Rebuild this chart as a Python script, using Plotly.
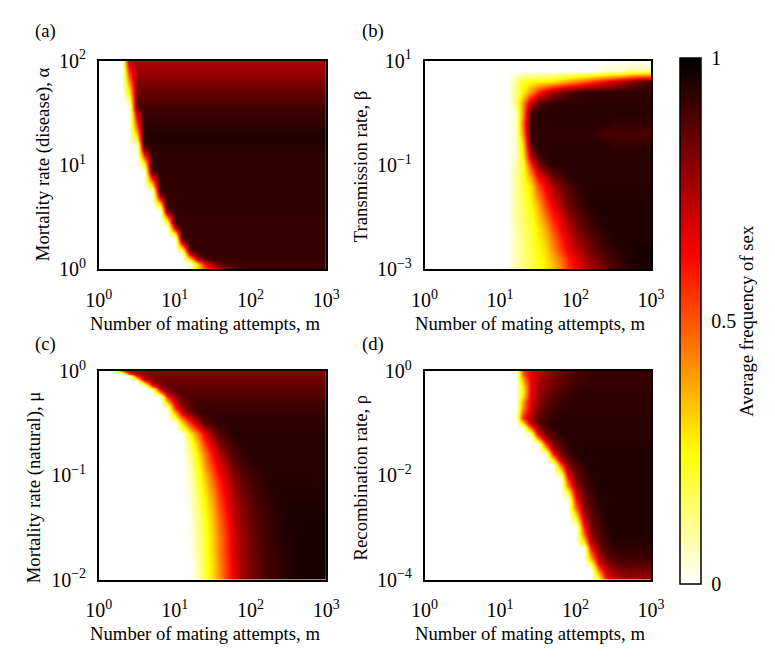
import numpy as np
import plotly.graph_objects as go
from plotly.subplots import make_subplots

SERIF = "Liberation Serif"
W, H = 775, 657

# Sampling grid of the simulations: log10 of the number of mating attempts m
M_EXP = np.linspace(0.0, 3.0, 31)
# Parameter grids (log10), listed from the top row to the bottom row
ALPHA_EXP = np.linspace(2.0, 0.0, 41)    # mortality rate (disease)
BETA_EXP = np.linspace(1.0, -3.0, 21)    # transmission rate
MU_EXP = [0.0, -0.025, -0.05, -0.075, -0.1, -0.125, -0.15, -0.175, -0.2,
          -0.25, -0.3, -0.35, -0.4, -0.5, -0.6, -0.7, -0.8, -0.9, -1.0,
          -1.1, -1.2, -1.3, -1.4, -1.5, -1.6, -1.7, -1.8, -1.9, -2.0]  # mortality rate (natural)
RHO_EXP = np.linspace(0.0, -4.0, 41)     # recombination rate

# Average frequency of sex (percent), one row per parameter value, top to bottom
FREQ_ALPHA = [
    [0] * 4 + [73] + [75] * 26,
    [0] * 4 + [65] + [76] * 26,
    [0] * 4 + [56] + [77] * 26,
    [0] * 4 + [49] + [79] * 26,
    [0] * 4 + [41] + [81] * 26,
    [0] * 4 + [33] + [83] * 26,
    [0] * 4 + [25] + [85] * 26,
    [0] * 4 + [16] + [87] * 26,
    [0] * 4 + [6] + [88] * 26,
    [0] * 5 + [86] + [90] * 25,
    [0] * 5 + [73] + [91] * 25,
    [0] * 5 + [64] + [92] * 25,
    [0] * 5 + [55] + [93] * 25,
    [0] * 5 + [45] + [94] * 25,
    [0] * 5 + [35] + [95] * 25,
    [0] * 5 + [24] + [95] * 25,
    [0] * 5 + [5] + [94] * 25,
    [0] * 6 + [78] + [94] * 24,
    [0] * 6 + [57] + [93] * 24,
    [0] * 6 + [37] + [93] * 24,
    [0] * 6 + [19] + [93] * 24,
    [0] * 7 + [92] + [93] * 23,
    [0] * 7 + [70] + [93] * 23,
    [0] * 7 + [48] + [93] * 23,
    [0] * 7 + [27] + [93] * 23,
    [0] * 7 + [2] + [93] * 23,
    [0] * 8 + [70] + [93] * 22,
    [0] * 8 + [42] + [93] * 22,
    [0] * 8 + [14] + [93] * 22,
    [0] * 9 + [79] + [93] * 21,
    [0] * 9 + [47] + [92] * 21,
    [0] * 9 + [14] + [92] * 21,
    [0] * 10 + [69] + [92] * 20,
    [0] * 10 + [34] + [92] * 20,
    [0] * 10 + [2] + [92] * 20,
    [0] * 11 + [62] + [92] * 19,
    [0] * 11 + [25] + [92] * 19,
    [0] * 12 + [70, 88] + [92] * 17,
    [0] * 12 + [32, 75, 88] + [92] * 16,
    [0] * 13 + [35, 62, 78, 86, 90] + [91] * 13,
    [0] * 12 + [12, 28, 48, 62, 72, 80, 86, 89] + [91] * 11,
]

FREQ_BETA = [
    [0] * 31,
    [0] * 23 + [2, 5, 5, 5, 10, 10, 10, 10],
    [0] * 12 + [12, 22, 25, 27, 28, 30, 35, 40, 45, 50, 55, 60, 65, 70, 75, 80, 85, 88, 90],
    [0] * 12 + [12, 25, 40, 55, 68, 76, 82, 87, 90] + [93] * 10,
    [0] * 12 + [12, 40, 70, 85, 90] + [93] * 14,
    [0] * 12 + [5, 40, 90] + [94] * 16,
    [0] * 12 + [5, 45, 92] + [94] * 10 + [92] * 6,
    [0] * 12 + [5, 40, 92] + [93] * 8 + [91] + [89] * 7,
    [0] * 12 + [5, 30, 88] + [94] * 10 + [92] * 6,
    [0] * 12 + [5, 25, 75, 90] + [94] * 15,
    [0] * 12 + [8, 20, 55, 80, 90] + [94] * 14,
    [0] * 12 + [10, 20, 40, 62, 75, 85, 90] + [94] * 12,
    [0] * 12 + [10, 18, 30, 50, 65, 75, 83, 88, 92] + [94] * 10,
    [0] * 12 + [10, 18, 27, 42, 58, 70, 78, 85, 90, 93] + [95] * 9,
    [0] * 12 + [10, 16, 24, 36, 52, 64, 74, 82, 88, 92] + [95] * 9,
    [0] * 12 + [10, 15, 22, 32, 45, 58, 68, 77, 84, 89, 92] + [95] * 8,
    [0] * 12 + [8, 14, 20, 28, 38, 52, 62, 72, 80, 86, 90, 93] + [95] * 7,
    [0] * 12 + [8, 13, 19, 26, 34, 46, 58, 68, 76, 82, 87, 90, 93] + [95] * 6,
    [0] * 12 + [8, 12, 18, 24, 31, 42, 54, 64, 72, 78, 84, 88, 91, 93, 95, 95, 96, 97, 97],
    [0] * 12 + [8, 12, 17, 22, 29, 36, 46, 57, 66, 73, 79, 84, 88, 91, 93, 95, 96, 96, 97],
    [0] * 12 + [8, 12, 16, 21, 27, 32, 42, 55, 63, 70, 76, 81, 85, 88, 91, 93, 95, 96, 97],
]

FREQ_MU = [
    [0] * 3 + [48, 73, 78] + [80] * 25,
    [0] * 4 + [49, 74, 79] + [81] * 24,
    [0] * 5 + [57, 76, 81] + [82] * 23,
    [0] * 5 + [28, 70, 80] + [83] * 23,
    [0] * 6 + [53, 77, 82] + [84] * 22,
    [0] * 6 + [17, 68, 81] + [85] * 22,
    [0] * 7 + [41, 76, 83] + [86] * 21,
    [0] * 7 + [9, 65, 81] + [86] * 21,
    [0] * 8 + [45, 78, 85] + [87] * 20,
    [0] * 9 + [55, 78, 85] + [88] * 19,
    [0] * 9 + [33, 68, 83, 88] + [90] * 18,
    [0] * 9 + [3, 55, 78, 87, 90] + [91] * 17,
    [0] * 10 + [35, 65, 82, 90] + [92] * 17,
    [0] * 11 + [30, 55, 75, 87, 91] + [93] * 15,
    [0] * 12 + [25, 45, 65, 80, 88, 92] + [94] * 13,
    [0] * 12 + [15, 35, 55, 70, 82, 88, 92] + [94] * 12,
    [0] * 12 + [10, 28, 45, 62, 74, 83, 89, 92] + [94] * 11,
    [0] * 12 + [8, 24, 40, 56, 68, 78, 85, 90, 92] + [94] * 10,
    [0] * 12 + [6, 20, 34, 50, 63, 74, 82, 87, 90, 92] + [94] * 9,
    [0] * 12 + [5, 18, 30, 45, 58, 70, 79, 85, 89, 91, 93] + [95] * 8,
    [0] * 12 + [4, 16, 27, 40, 55, 67, 76, 83, 87, 90, 92, 94] + [95] * 7,
    [0] * 12 + [3, 14, 25, 37, 52, 64, 74, 81, 86, 89, 91, 93] + [95] * 7,
    [0] * 12 + [2, 12, 23, 35, 49, 62, 72, 80, 85, 88, 91, 93, 94] + [96] * 6,
    [0] * 12 + [2, 11, 22, 33, 47, 60, 71, 79, 84, 88, 90, 92, 94] + [96] * 6,
    [0] * 12 + [1, 10, 21, 32, 45, 58, 70, 78, 83, 87, 90, 92, 94, 95] + [96] * 5,
    [0] * 12 + [1, 10, 21, 32, 45, 58, 70, 78, 83, 87, 90, 92, 94, 95] + [96] * 5,
    [0] * 13 + [9, 20, 31, 44, 57, 69, 77, 82, 86, 89, 91, 93, 95] + [96] * 5,
    [0] * 13 + [8, 20, 30, 43, 56, 68, 77, 82, 86, 89, 91, 93, 95] + [96] * 4 + [97],
    [0] * 13 + [8, 20, 30, 42, 56, 68, 77, 82, 86, 89, 91, 93, 95, 96, 96, 96, 97, 97],
]

FREQ_RHO = [
    [0] * 13 + [50, 66, 72, 77, 81, 84, 87, 89, 90, 91] + [92] * 8,
    [0] * 13 + [45, 66, 73, 78, 82, 85, 88, 90, 91] + [92] * 9,
    [0] * 13 + [35, 65, 74, 79, 83, 86, 88, 90, 91] + [92] * 9,
    [0] * 13 + [28, 64, 75, 80, 84, 87, 89, 91] + [92] * 10,
    [0] * 13 + [25, 64, 76, 82, 86, 89, 91] + [93] * 11,
    [0] * 13 + [30, 66, 77, 84, 88, 90, 92] + [93] * 11,
    [0] * 13 + [38, 68, 78, 85, 89, 91] + [93] * 12,
    [0] * 13 + [42, 68, 80, 87, 90, 92] + [93] * 12,
    [0] * 13 + [48, 72, 83, 89, 92] + [93] * 13,
    [0] * 12 + [2, 55, 76, 86, 90, 92] + [94] * 13,
    [0] * 13 + [30, 72, 86, 91] + [94] * 14,
    [0] * 14 + [47, 79, 87, 92] + [94] * 13,
    [0] * 14 + [9, 64, 84, 89] + [94] * 13,
    [0] * 15 + [36, 74, 86, 91] + [94] * 12,
    [0] * 16 + [55, 81, 88, 93] + [94] * 11,
    [0] * 16 + [30, 73, 86, 92] + [95] * 11,
    [0] * 17 + [56, 82, 89, 94] + [95] * 10,
    [0] * 17 + [25, 70, 86, 91] + [95] * 10,
    [0] * 18 + [48, 80, 88, 93] + [95] * 9,
    [0] * 18 + [30, 73, 86, 92] + [95] * 9,
    [0] * 18 + [10, 65, 84, 90] + [95] * 9,
    [0] * 19 + [52, 81, 89, 93] + [95] * 8,
    [0] * 19 + [42, 78, 88, 93] + [95] * 8,
    [0] * 19 + [25, 70, 86, 91] + [95] * 8,
    [0] * 19 + [10, 65, 84, 90] + [95] * 8,
    [0] * 20 + [56, 82, 89, 94] + [95] * 7,
    [0] * 20 + [48, 80, 88, 93] + [95] * 7,
    [0] * 20 + [36, 75, 87, 92] + [95] * 7,
    [0] * 20 + [25, 70, 86, 91] + [95] * 7,
    [0] * 20 + [10, 65, 84, 90] + [95] * 7,
    [0] * 21 + [56, 82, 89, 94] + [95] * 6,
    [0] * 21 + [48, 80, 88, 93] + [95] * 6,
    [0] * 21 + [36, 75, 87, 92] + [95] * 6,
    [0] * 21 + [24, 70, 85, 90] + [94] * 6,
    [0] * 22 + [59, 82, 88] + [93] * 6,
    [0] * 22 + [46, 77, 86, 90] + [92] * 5,
    [0] * 22 + [34, 71, 83, 87] + [90] * 5,
    [0] * 22 + [17, 63, 78, 84] + [87] * 5,
    [0] * 23 + [50, 72, 79, 83] + [84] * 4,
    [0] * 23 + [35, 66, 74, 78] + [80] * 4,
    [0] * 23 + [20, 56, 69, 73] + [75, 76, 77, 78],
]

# Reversed MATLAB "hot" colour map: white -> yellow -> red -> black
HOT_R = [
    [0.0, "rgb(255,255,255)"],
    [0.25, "rgb(255,255,0)"],
    [0.625, "rgb(255,0,0)"],
    [1.0, "rgb(0,0,0)"],
]

X_TICKS = [1, 10, 100, 1000]
X_TEXT = ["10<sup>0</sup>", "10<sup>1</sup>", "10<sup>2</sup>", "10<sup>3</sup>"]

PANELS = [
    # (rows, y exponents, y tick exponents)
    (FREQ_ALPHA, ALPHA_EXP, [0, 1, 2]),
    (FREQ_BETA, BETA_EXP, [-3, -1, 1]),
    (FREQ_MU, MU_EXP, [-2, -1, 0]),
    (FREQ_RHO, RHO_EXP, [-4, -2, 0]),
]


def sup(e):
    s = str(e).replace("-", "\u2212")
    return f"10<sup>{s}</sup>"


fig = make_subplots(rows=2, cols=2)

x_vals = 10 ** M_EXP
for i, (rows, yexp, yt) in enumerate(PANELS):
    assert all(len(r) == len(M_EXP) for r in rows) and len(rows) == len(yexp)
    z = np.array(rows[::-1], dtype=float) / 100.0
    y_vals = 10 ** np.asarray(yexp)[::-1]
    r, c = i // 2 + 1, i % 2 + 1
    fig.add_trace(
        go.Heatmap(x=x_vals, y=y_vals, z=z, coloraxis="coloraxis",
                   zsmooth="best", hoverinfo="skip"),
        row=r, col=c,
    )
    fig.update_yaxes(type="log", range=[min(yt), max(yt)],
                     tickvals=[10.0 ** e for e in yt], ticktext=[sup(e) for e in yt],
                     row=r, col=c)
    fig.update_xaxes(type="log", range=[0, 3], tickvals=X_TICKS, ticktext=X_TEXT,
                     row=r, col=c)

tick_font = dict(family=SERIF, size=20, color="black")
fig.update_xaxes(showline=True, linecolor="black", linewidth=1.5, mirror=True,
                 ticks="", showgrid=False, zeroline=False, tickfont=tick_font,
                 ticklabelstandoff=12)
fig.update_yaxes(showline=True, linecolor="black", linewidth=1.5, mirror=True,
                 ticks="", showgrid=False, zeroline=False, tickfont=tick_font,
                 ticklabelstandoff=7)

# Panel frames in pixels: left, right, top, bottom
FRAMES = {
    "": (88, 324, 49.5, 266),
    "2": (426, 661, 49.5, 266),
    "3": (88, 324, 371.5, 588),
    "4": (426, 661, 371.5, 588),
}
for k, (l, rgt, t, b) in FRAMES.items():
    fig.layout["xaxis" + k].domain = [l / W, rgt / W]
    fig.layout["yaxis" + k].domain = [1 - b / H, 1 - t / H]

# Colour bar: left edge, width, top and bottom in pixels
CB_LEFT, CB_W, CB_TOP, CB_BOTTOM = 691, 21, 47, 593
fig.update_layout(
    coloraxis=dict(
        colorscale=HOT_R, cmin=0, cmax=1,
        colorbar=dict(
            x=CB_LEFT / W, xanchor="left", xpad=0,
            y=1 - (CB_TOP + CB_BOTTOM) / 2 / H, yanchor="middle", ypad=0,
            len=(CB_BOTTOM - CB_TOP) / H, lenmode="fraction",
            thickness=CB_W, thicknessmode="pixels",
            outlinecolor="black", outlinewidth=1.5,
            tickvals=[0, 0.5, 1], ticktext=["0", "0.5", "1"],
            ticks="outside", ticklen=6, tickcolor="rgba(0,0,0,0)",
            tickfont=tick_font,
        ),
    ),
)

# Short inner ticks of the colour bar at 0.5, on both edges
mid_y = 1 - (CB_TOP + CB_BOTTOM) / 2 / H
for x0, x1 in ((CB_LEFT, CB_LEFT + 4), (CB_LEFT + CB_W - 4, CB_LEFT + CB_W)):
    fig.add_shape(type="line", xref="paper", yref="paper",
                  x0=x0 / W, x1=x1 / W, y0=mid_y, y1=mid_y,
                  line=dict(color="black", width=1))

label_font = dict(family=SERIF, size=18.7, color="black")


def note(text, x, y, angle=0):
    fig.add_annotation(text=text, x=x / W, y=1 - y / H, xref="paper", yref="paper",
                       xanchor="center", yanchor="middle", showarrow=False,
                       textangle=angle, font=label_font)


note("(a)", 33, 19)
note("(b)", 372, 19)
note("(c)", 33, 344)
note("(d)", 372, 344)
note("Mortality rate (disease), \u03b1", 30, 157, -90)
note("Transmission rate, \u03b2", 359, 159, -90)
note("Mortality rate (natural), \u03bc", 21, 492, -90)
note("Recombination rate, \u03c1", 359, 482, -90)
for y in (322, 644):
    note("Number of mating attempts, m", 198, y)
    note("Number of mating attempts, m", 535, y)
note("Average frequency of sex", 760, 320, -90)

fig.update_layout(width=W, height=H, margin=dict(l=0, r=0, t=0, b=0),
                  paper_bgcolor="white", plot_bgcolor="white", showlegend=False)

# Let the figure fill the page edge to edge
fig.write_html(
    "out.html",
    post_script="document.body.style.margin='0';document.body.style.overflow='hidden';",
)
